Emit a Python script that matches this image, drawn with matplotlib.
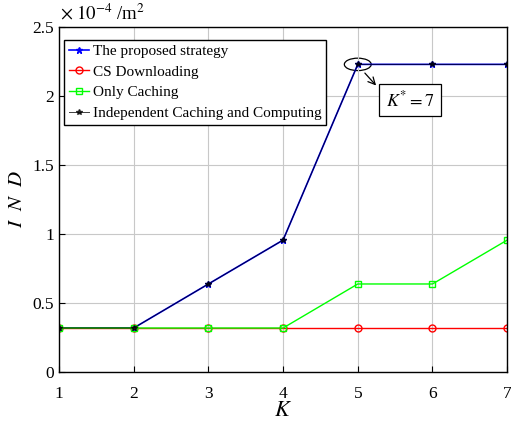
import matplotlib
matplotlib.use('Agg')
import matplotlib.pyplot as plt
from matplotlib.patches import Ellipse
import numpy as np

plt.rcParams['font.family'] = ['Liberation Serif', 'DejaVu Serif']
plt.rcParams['mathtext.fontset'] = 'stix'

K = [1, 2, 3, 4, 5, 6, 7]
# IND values, unit 1e-4 /m^2
proposed = [0.318, 0.318, 0.637, 0.955, 2.228, 2.228, 2.228]
cs_download = [0.318, 0.318, 0.318, 0.318, 0.318, 0.318, 0.318]
only_caching = [0.318, 0.318, 0.318, 0.318, 0.637, 0.637, 0.955]
independent = [0.318, 0.318, 0.637, 0.955, 2.228, 2.228, 2.228]

fig = plt.figure(figsize=(5.11, 4.26), dpi=100)
ax = fig.add_axes([0.1155, 0.127, 0.877, 0.81])

ax.plot(K, proposed, color='blue', marker='*', markersize=5, lw=1.2,
        label='The proposed strategy')
ax.plot(K, cs_download, color='red', marker='o', markersize=5, lw=1.0,
        markerfacecolor='none', label='CS Downloading')
ax.plot(K, only_caching, color='#00ff00', marker='s', markersize=4, lw=1.0,
        markerfacecolor='none', label='Only Caching')
ax.plot(K, independent, color='black', marker='*', markersize=4, lw=0.7,
        alpha=0.75, label='Independent Caching and Computing')

ax.set_xlim(1, 7)
ax.set_ylim(0, 2.5)
ax.set_xticks(K)
ax.set_yticks([0, 0.5, 1, 1.5, 2, 2.5])
ax.set_yticklabels(['0', '0.5', '1', '1.5', '2', '2.5'])
ax.tick_params(direction='in', labelsize=12.5, length=4)
ax.tick_params(axis='x', pad=10)
ax.grid(True, color='#c8c8c8', lw=0.8)
for s in ax.spines.values():
    s.set_linewidth(1.0)

ax.set_xlabel('$K$', fontsize=16, labelpad=0)
ax.set_ylabel('$I\\ \\ N\\ \\ D$', fontsize=15, labelpad=4)
fig.text(0.118, 0.945, r'$\times\ 10^{-4}$ /m$^2$', fontsize=13.5, ha='left', va='bottom')

leg = ax.legend(loc='upper left', bbox_to_anchor=(0.011, 0.962), borderaxespad=0,
                fontsize=11, fancybox=False, edgecolor='black',
                framealpha=1, handlelength=1.35, handletextpad=0.25, borderpad=0.3,
                labelspacing=0.45)
leg.get_frame().set_linewidth(1.0)

ax.add_patch(Ellipse((5, 2.228), 0.36, 0.09, fill=False, edgecolor='black', lw=0.9))
ax.annotate('', xy=(5.27, 2.06), xytext=(5.07, 2.18),
            arrowprops=dict(arrowstyle='->,head_width=0.25,head_length=0.5',
                            color='black', lw=0.9))
ax.text(5.70, 1.97, '$K^{*} = 7$', fontsize=13, ha='center', va='center',
        bbox=dict(boxstyle='square,pad=0.35', fc='white', ec='black', lw=0.9))

fig.savefig('out.png', dpi=100)
